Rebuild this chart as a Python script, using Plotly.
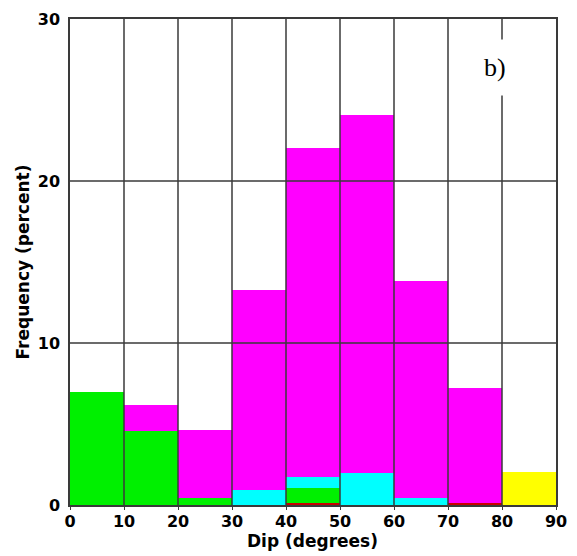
import plotly.graph_objects as go

bin_centers = [5, 15, 25, 35, 45, 55, 65, 75, 85]
magenta_vals = [0, 6.15, 4.6, 13.3, 22.05, 24.1, 13.85, 7.25, 0]
cyan_vals = [0, 0, 0, 0.93, 1.7, 2.0, 0.45, 0, 0]
green_vals = [7.0, 4.55, 0.45, 0, 1.05, 0, 0, 0, 0]
red_vals = [0, 0, 0, 0, 0.15, 0, 0, 0.15, 0]
yellow_vals = [0, 0, 0, 0, 0, 0, 0, 0, 2.05]

x_ticks = [0, 10, 20, 30, 40, 50, 60, 70, 80, 90]
y_ticks = [0, 10, 20, 30]

series = [
    ("magenta", magenta_vals, "#ff00ff"),
    ("cyan", cyan_vals, "#00ffff"),
    ("green", green_vals, "#00f000"),
    ("red", red_vals, "#c80000"),
    ("yellow", yellow_vals, "#ffff00"),
]

fig = go.Figure()
for name, vals, col in series:
    fig.add_trace(go.Bar(x=bin_centers, y=vals, width=10, name=name,
                         marker=dict(color=col, line=dict(width=0)),
                         showlegend=False))

grid_col = "#3a3a3a"
shapes = []
for xv in x_ticks[1:-1]:
    shapes.append(dict(type="line", xref="x", yref="paper", x0=xv, x1=xv, y0=0, y1=1,
                       line=dict(color=grid_col, width=1.5), layer="above"))
for yv in y_ticks[1:-1]:
    shapes.append(dict(type="line", xref="paper", yref="y", x0=0, x1=1, y0=yv, y1=yv,
                       line=dict(color=grid_col, width=1.5), layer="above"))

font_fam = "DejaVu Sans, Verdana, sans-serif"
fig.update_layout(
    width=569, height=548,
    margin=dict(l=62, r=21, t=11, b=51),
    paper_bgcolor="white", plot_bgcolor="white",
    barmode="overlay", bargap=0,
    shapes=shapes,
    font=dict(family=font_fam, size=16, color="black"),
    xaxis=dict(range=[0, 90], tickvals=x_ticks, ticktext=[str(v) for v in x_ticks],
               automargin=False,
               showgrid=False, zeroline=False, showline=True, linecolor=grid_col,
               linewidth=1.5, mirror=True, ticks="outside", ticklen=3, tickcolor=grid_col,
               ticklabelstandoff=-2,
               tickfont=dict(family=font_fam, size=16, color="black", weight="bold"),
               layer="above traces"),
    yaxis=dict(range=[0, 30], tickvals=y_ticks, ticktext=[str(v) for v in y_ticks],
               automargin=False,
               showgrid=False, zeroline=False, showline=True, linecolor=grid_col,
               linewidth=1.5, mirror=True, ticks="", ticklabelstandoff=5,
               tickfont=dict(family=font_fam, size=16, color="black", weight="bold"),
               title=dict(text="<b>Frequency (percent)</b>", standoff=4,
                          font=dict(family=font_fam, size=17, color="black")),
               layer="above traces"),
    annotations=[
        dict(text="b)", xref="paper", yref="paper", x=0.874, y=0.901,
             xanchor="center", yanchor="middle",
             showarrow=False, bgcolor="white", borderpad=13,
             font=dict(family="Liberation Serif, Times New Roman, serif",
                       size=26, color="black")),
        dict(text="<b>Dip (degrees)</b>", xref="paper", yref="paper", x=0.498, y=-0.074,
             xanchor="center", yanchor="middle", showarrow=False,
             font=dict(family=font_fam, size=17, color="black")),
    ],
)

fig.write_html("out.html")
